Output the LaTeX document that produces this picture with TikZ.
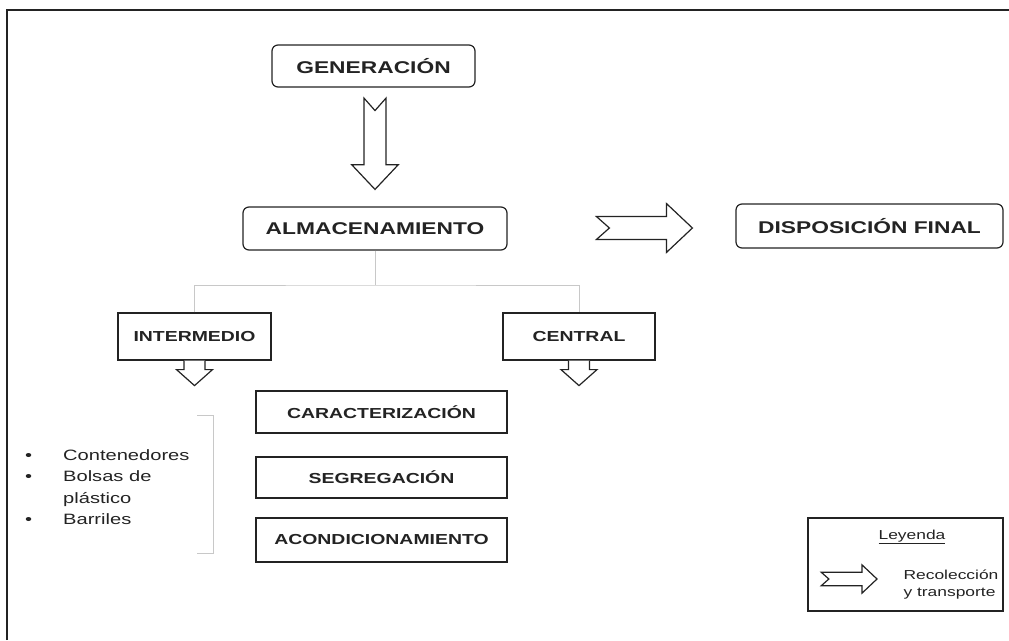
\documentclass[tikz,border=0pt]{standalone}
\usepackage{fontspec}
\setmainfont{Liberation Sans}[FakeStretch=1.34]
\usetikzlibrary{positioning}
\usetikzlibrary{calc}

\begin{document}
\begin{tikzpicture}[x=1pt,y=-1pt,
	main node/.style={draw=ink,line width=1.2pt,rounded corners=6pt,fill=white,text=ink,
		font=\fontsize{17}{20}\selectfont\bfseries},
	sub node/.style={draw=ink,line width=1.2pt,fill=white,text=ink,
		font=\fontsize{14.5}{17}\selectfont\bfseries},
	branch/.style={draw=soft,line width=1pt},
	hollow/.style={draw=ink,fill=white,line width=1.2pt,line join=miter},
	chevron/.pic={\path[hollow] (-96,-11.5) -- (-26,-11.5) -- (-26,-24.5) -- (0,0)
		-- (-26,24.5) -- (-26,11.5) -- (-96,11.5) -- (-83,0) -- cycle;},
	drop/.pic={\path[hollow] (-10.5,0) -- (-10.5,9) -- (-18,9) -- (0,25)
		-- (18,9) -- (10.5,9) -- (10.5,0);}]
	
	\definecolor{ink}{RGB}{35,35,35}
	\definecolor{soft}{RGB}{200,200,200}
	
	\useasboundingbox (0,0) rectangle (1009,640);
	\draw[ink,line width=1.8pt] (7,640) -- (7,10) -- (1009,10);
	
	% main flow
	\node[main node,minimum width=203pt,minimum height=42pt] (gen) at (373.5,66) {GENERACIÓN};
	\node[main node,minimum width=264pt,minimum height=43pt] (alm) at (375,228.5) {ALMACENAMIENTO};
	\node[main node,minimum width=267pt,minimum height=44pt] (disp) at (869.5,226) {DISPOSICIÓN FINAL};
	
	\pic[rotate=-90,scale=0.95] at ($(alm.north)+(0,-17)$) {chevron};
	\pic at ($(disp.west)+(-43,2)$) {chevron};
	
	% storage types
	\node[sub node,minimum width=153pt,minimum height=47pt] (inter) at (194.5,336.5) {INTERMEDIO};
	\node[sub node,minimum width=152pt,minimum height=47pt] (central) at (579,336.5) {CENTRAL};
	
	\coordinate (split) at (375,285);
	\draw[branch] (alm.south) -- (split);
	\draw[branch] (inter.north) |- (split) -| (central.north);
	
	\pic at (inter.south) {drop};
	\pic at (central.south) {drop};
	
	% steps
	\node[sub node,minimum width=251pt,minimum height=42pt] (carac) at (381.5,412) {CARACTERIZACIÓN};
	\node[sub node,minimum width=251pt,minimum height=41pt] (segre) at (381.5,477.5) {SEGREGACIÓN};
	\node[sub node,minimum width=251pt,minimum height=44pt] (acond) at (381.5,540) {ACONDICIONAMIENTO};
	
	% containers
	\node[anchor=west,inner sep=0pt,text=ink,font=\fontsize{15}{21.5}\selectfont] (list) at (25,488)
		{\begin{tabular}{@{}p{38pt}@{}l@{}}
			• & Contenedores\\
			• & Bolsas de\\
			& plástico\\
			• & Barriles
		\end{tabular}};
	\draw[branch] (197,415) -- (213,415) -- (213,553) -- (197,553);
	
	% legend
	\node[draw=ink,line width=1.2pt,minimum width=195pt,minimum height=93pt] (legend) at (905.5,564.5) {};
	\node[text=ink,font=\fontsize{13}{16}\selectfont] (leyenda) at (912,537) {\underline{Leyenda}};
	\node[anchor=west,align=left,text=ink,font=\fontsize{13}{17}\selectfont] (recol) at (900,584.5)
		{Recolección\\y transporte};
	\pic[scale=0.58] at (877,579) {chevron};
	
\end{tikzpicture}
\end{document}
